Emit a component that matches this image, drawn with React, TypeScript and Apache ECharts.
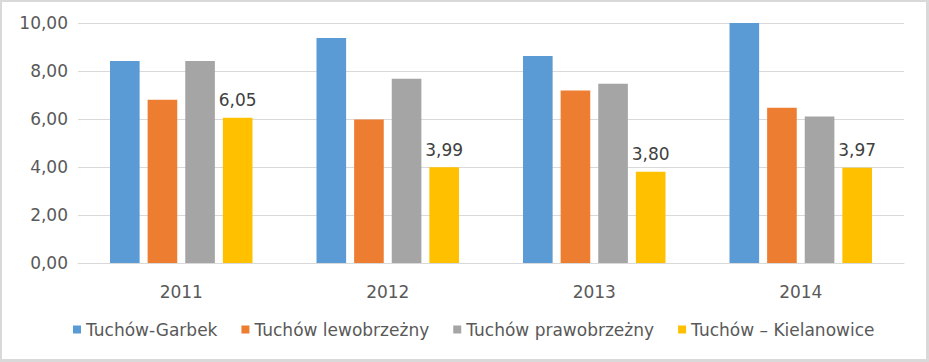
import React, { useEffect, useRef } from "react";
import * as echarts from "echarts";

const categories = ["2011", "2012", "2013", "2014"];
const seriesNames = ["Tuchów-Garbek", "Tuchów lewobrzeżny", "Tuchów prawobrzeżny", "Tuchów – Kielanowice"];
const garbek = [8.42, 9.38, 8.63, 10.0];
const lewobrzezny = [6.8, 5.98, 7.19, 6.47];
const prawobrzezny = [8.42, 7.68, 7.47, 6.1];
const kielanowice = [6.05, 3.99, 3.8, 3.97];
const colors = ["#5B9BD5", "#ED7D31", "#A5A5A5", "#FFC000"];

const fmt = (v: number) => v.toFixed(2).replace(".", ",");

export default function App() {
  const ref = useRef<HTMLDivElement>(null);
  useEffect(() => {
    if (!ref.current) return;
    const chart = echarts.init(ref.current, undefined, { renderer: "svg" });
    const data = [garbek, lewobrzezny, prawobrzezny, kielanowice];
    chart.setOption({
      animation: false,
      backgroundColor: "#ffffff",
      textStyle: { fontFamily: "DejaVu Sans" },
      grid: { left: 76, right: 22, top: 21, bottom: 96 },
      legend: {
        bottom: 16,
        left: 66,
        itemWidth: 8,
        itemHeight: 8,
        itemGap: 24,
        icon: "rect",
        textStyle: { fontSize: 17, color: "#595959", fontFamily: "DejaVu Sans" },
        data: seriesNames,
      },
      xAxis: {
        type: "category",
        data: categories,
        axisLine: { lineStyle: { color: "#D9D9D9" } },
        axisTick: { show: false },
        axisLabel: { fontSize: 17, color: "#595959", margin: 20 },
      },
      yAxis: {
        type: "value",
        min: 0,
        max: 10,
        interval: 2,
        axisLine: { show: false },
        axisTick: { show: false },
        splitLine: { lineStyle: { color: "#D9D9D9" } },
        axisLabel: { fontSize: 17, color: "#595959", margin: 10, formatter: fmt },
      },
      series: seriesNames.map((name, i) => ({
        name,
        type: "bar",
        data: data[i],
        itemStyle: { color: colors[i] },
        barGap: "27%",
        barCategoryGap: "31%",
        label:
          i === 3
            ? {
                show: true,
                position: "top",
                distance: 9,
                fontSize: 17,
                color: "#404040",
                formatter: (p: any) => fmt(p.value),
              }
            : { show: false },
      })),
    });
    return () => chart.dispose();
  }, []);
  return (
    <div
      style={{
        position: "fixed",
        left: 0,
        top: 0,
        width: 929,
        height: 362,
        boxSizing: "border-box",
        borderTop: "2px solid #D9D9D9",
        borderLeft: "2px solid #D9D9D9",
        borderRight: "3px solid #D9D9D9",
        borderBottom: "3px solid #D9D9D9",
        background: "#fff",
      }}
    >
      <div ref={ref} style={{ width: 924, height: 357 }} />
    </div>
  );
}
